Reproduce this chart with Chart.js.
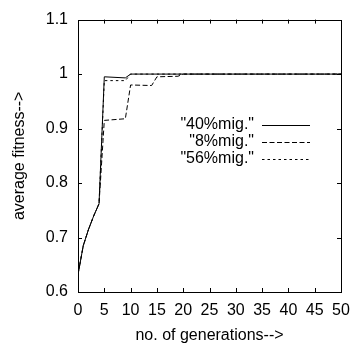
<!DOCTYPE html>
<html>
<head>
<meta charset="utf-8">
<script src="https://cdn.jsdelivr.net/npm/chart.js@4"></script>
<style>
	html, body { margin: 0; padding: 0; background: #fff; }
	#wrap { width: 351px; height: 347px; }
</style>
</head>
<body>
<div id="wrap"><canvas id="chart-line"></canvas></div>
<script>
// Chart data
const GENERATIONS = [0, 1, 2, 3, 4, 5, 9, 10, 14, 15, 19, 20, 50];
const MIG_40 = [0.632, 0.685, 0.715, 0.74, 0.762, 0.995, 0.993, 1.0, 1.0, 1.0, 1.0, 1.0, 1.0];
const MIG_8 = [0.632, 0.685, 0.715, 0.74, 0.762, 0.915, 0.918, 0.98, 0.979, 0.995, 0.996, 1.0, 1.0];
const MIG_56 = [0.632, 0.685, 0.715, 0.74, 0.762, 0.988, 0.988, 1.0, 1.0, 1.0, 1.0, 1.0, 1.0];
const X_TICKS = [0, 5, 10, 15, 20, 25, 30, 35, 40, 45, 50];
const Y_TICKS = [0.6, 0.7, 0.8, 0.9, 1, 1.1];
const Y_LABELS = ["0.6", "0.7", "0.8", "0.9", "1", "1.1"];

const FONT = "'Liberation Sans', Arial, sans-serif";
const toPoints = (ys) => ys.map((y, i) => ({ x: GENERATIONS[i], y }));

const series = (label, ys, dash) => ({
	label,
	data: toPoints(ys),
	borderColor: "#000",
	borderWidth: 1,
	borderDash: dash,
	pointRadius: 0,
	tension: 0,
	fill: false,
});

// frame, inward ticks on all sides, and the key
const framePlugin = {
	id: "frame",
	afterDraw(chart) {
		const { ctx, chartArea: a, scales } = chart;
		ctx.save();
		ctx.strokeStyle = "#000";
		ctx.lineWidth = 1;
		ctx.setLineDash([]);
		ctx.strokeRect(Math.round(a.left) + 0.5, Math.round(a.top) + 0.5, Math.round(a.right - a.left), Math.round(a.bottom - a.top));
		const len = 4;
		ctx.beginPath();
		X_TICKS.slice(1, -1).forEach((v) => {
			const x = Math.round(scales.x.getPixelForValue(v)) + 0.5;
			ctx.moveTo(x, a.bottom); ctx.lineTo(x, a.bottom - len);
			ctx.moveTo(x, a.top); ctx.lineTo(x, a.top + len);
		});
		Y_TICKS.slice(1, -1).forEach((v) => {
			const y = Math.round(scales.y.getPixelForValue(v)) + 0.5;
			ctx.moveTo(a.left, y); ctx.lineTo(a.left + len, y);
			ctx.moveTo(a.right, y); ctx.lineTo(a.right - len, y);
		});
		ctx.stroke();

		// key
		ctx.font = "16px " + FONT;
		ctx.fillStyle = "#000";
		ctx.textAlign = "right";
		ctx.textBaseline = "middle";
		chart.data.datasets.forEach((ds, i) => {
			const y = 125 + i * 17;
			ctx.fillText(ds.label, 254, y);
			ctx.setLineDash(ds.borderDash || []);
			ctx.beginPath();
			ctx.moveTo(262, y + 0.5);
			ctx.lineTo(310, y + 0.5);
			ctx.stroke();
		});
		ctx.restore();
	},
};

const CONFIG = {
	type: "line",
	data: {
		datasets: [
			series('"40%mig."', MIG_40, []),
			series('"8%mig."', MIG_8, [5, 2.5]),
			series('"56%mig."', MIG_56, [2.5, 3]),
		],
	},
	plugins: [framePlugin],
	options: {
		animation: false,
		responsive: true,
		maintainAspectRatio: false,
		layout: { padding: { top: 13, right: 0, left: 0, bottom: 0 } },
		plugins: {
			legend: { display: false },
			tooltip: { enabled: false },
		},
		scales: {
			x: {
				type: "linear",
				min: 0,
				max: 50,
				afterBuildTicks: (s) => { s.ticks = X_TICKS.map((v) => ({ value: v })); },
				afterFit: (s) => { s.height = 55; s.paddingRight = 10; },
				border: { display: false },
				grid: { display: false, drawTicks: false },
				ticks: { color: "#000", font: { family: FONT, size: 16 }, padding: 9, maxRotation: 0, autoSkip: false },
				title: {
					display: true,
					text: "no. of generations-->",
					color: "#000",
					font: { family: FONT, size: 16 },
					padding: { top: 0, bottom: 2 },
				},
			},
			y: {
				type: "linear",
				min: 0.6,
				max: 1.1,
				afterBuildTicks: (s) => { s.ticks = Y_TICKS.map((v) => ({ value: v })); },
				afterFit: (s) => { s.width = 78; },
				border: { display: false },
				grid: { display: false, drawTicks: false },
				ticks: {
					color: "#000",
					font: { family: FONT, size: 16 },
					padding: 10,
					autoSkip: false,
					callback: (v) => Y_LABELS[Y_TICKS.findIndex((t) => Math.abs(t - v) < 1e-9)],
				},
				title: {
					display: true,
					text: "average fitness-->",
					color: "#000",
					font: { family: FONT, size: 16 },
					padding: { top: 10, bottom: 0 },
				},
			},
		},
	},
};

new Chart(document.getElementById("chart-line"), CONFIG);
</script>
</body>
</html>
